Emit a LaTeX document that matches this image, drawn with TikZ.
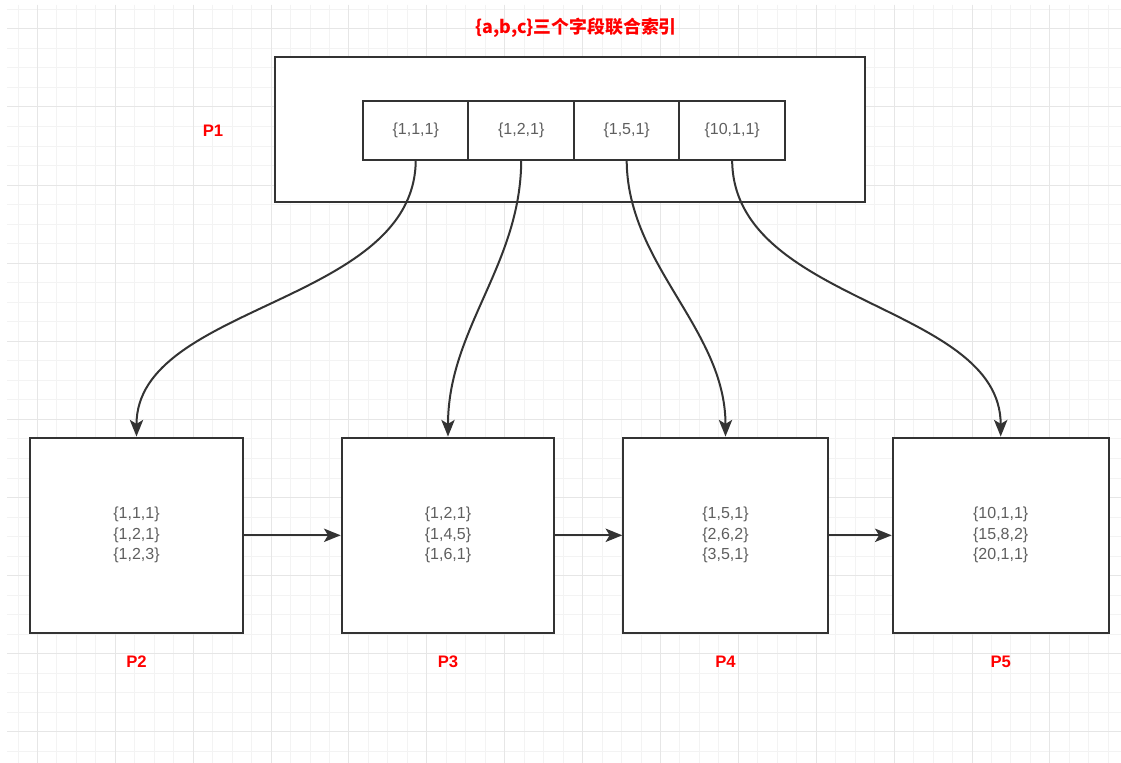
\documentclass[tikz,border=0pt]{standalone}
\usepackage{fontspec}
\setmainfont{Liberation Sans}
\newfontfamily\cjk{Noto Sans CJK SC}
\usetikzlibrary{
	arrows.meta,
	positioning
}
\definecolor{LineGray}{RGB}{51,51,51}
\definecolor{TextGray}{RGB}{95,95,95}
\definecolor{GridMinor}{RGB}{243,243,243}
\definecolor{GridMajor}{RGB}{230,230,230}
\definecolor{LabelRed}{RGB}{255,0,0}

\begin{document}
\begin{tikzpicture}[x=0.75pt, y=-0.75pt,
		box/.style={draw=LineGray, fill=white, line width=1.5pt, inner sep=0pt},
		keycell/.style={box, outer sep=0pt, minimum width=79.1pt, minimum height=43.9pt, text=TextGray, font=\fontsize{12}{15}\selectfont},
		leafbox/.style={box, minimum height=146.6pt, align=center, text=TextGray, font=\fontsize{12}{15.4}\selectfont},
		plabel/.style={text=LabelRed, font=\fontsize{12.5}{15}\selectfont\bfseries},
		gridminor/.style={draw=GridMinor, line width=0.75pt},
		gridmajor/.style={draw=GridMajor, line width=0.75pt},
		link/.style={draw=LineGray, line width=1.5pt, -{Stealth[length=12.5pt, width=10pt, inset=3pt]}}
	]
	\useasboundingbox (0,0) rectangle (1121,763);
	\fill[white] (0,0) rectangle (1121,763);
	\foreach \k in {0,...,56} \draw[gridminor] ({18+19.47*\k},5) -- ({18+19.47*\k},763);
	\foreach \k in {0,...,38} \draw[gridminor] (7,{9.3+19.53*\k}) -- (1121,{9.3+19.53*\k});
	\foreach \k in {1,5,...,53} \draw[gridmajor] ({18+19.47*\k},5) -- ({18+19.47*\k},763);
	\foreach \k in {1,5,...,37} \draw[gridmajor] (7,{9.3+19.53*\k}) -- (1121,{9.3+19.53*\k});

	\node[text=LabelRed, font=\cjk\fontsize{13.4}{16}\selectfont\bfseries] (title) at (576,28) {\{a,b,c\}三个字段联合索引};

	\node[box, minimum width=442.5pt, minimum height=108.75pt] (p1) at (570,129.5) {};
	\node[keycell] (c1) at (415.75,130.25) {\{1,1,1\}};
	\node[keycell, right=0pt of c1] (c2) {\{1,2,1\}};
	\node[keycell, right=0pt of c2] (c3) {\{1,5,1\}};
	\node[keycell, right=0pt of c3] (c4) {\{10,1,1\}};
	\node[plabel] (l1) at (213,131) {P1};

	\node[leafbox, minimum width=159.75pt] (p2) at (136.5,535.3) {\{1,1,1\}\\\{1,2,1\}\\\{1,2,3\}};
	\node[leafbox, minimum width=159.5pt] (p3) at (448,535.3) {\{1,2,1\}\\\{1,4,5\}\\\{1,6,1\}};
	\node[leafbox, minimum width=153.3pt] (p4) at (725.5,535.3) {\{1,5,1\}\\\{2,6,2\}\\\{3,5,1\}};
	\node[leafbox, minimum width=162pt] (p5) at (1000.7,535.3) {\{10,1,1\}\\\{15,8,2\}\\\{20,1,1\}};
	\node[plabel] (l2) at (136.5,662) {P2};
	\node[plabel] (l3) at (448,662) {P3};
	\node[plabel] (l4) at (725.5,662) {P4};
	\node[plabel] (l5) at (1000.7,662) {P5};

	\draw[link] (c1.south) .. controls +(0,145) and +(0,-133) .. (p2.north);
	\draw[link] (c2.south) .. controls +(0,105) and +(0,-108) .. (p3.north);
	\draw[link] (c3.south) .. controls +(0,105) and +(0,-108) .. (p4.north);
	\draw[link] (c4.south) .. controls +(0,145) and +(0,-133) .. (p5.north);
	\draw[link] (p2.east) -- (p3.west);
	\draw[link] (p3.east) -- (p4.west);
	\draw[link] (p4.east) -- (p5.west);
\end{tikzpicture}
\end{document}
